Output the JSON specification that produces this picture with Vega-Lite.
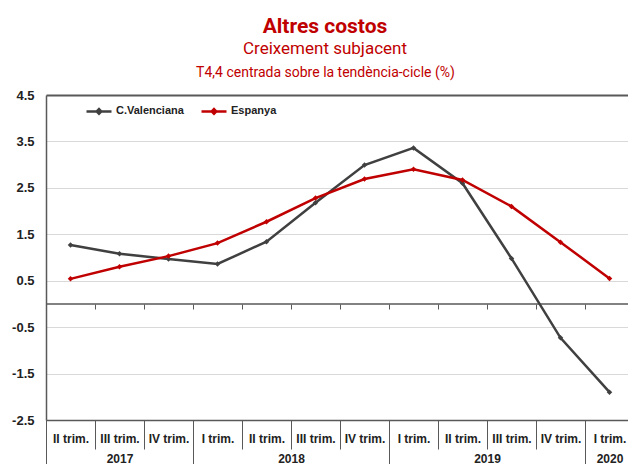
{
  "$schema": "https://vega.github.io/schema/vega-lite/v6.json",
  "width": 582,
  "height": 325,
  "autosize": {"type": "none"},
  "padding": {"left": 46, "top": 95, "right": 0, "bottom": 44},
  "background": "white",
  "title": {
    "text": "Altres costos",
    "subtitle": "Creixement subjacent",
    "anchor": "middle",
    "dx": -12,
    "offset": 8,
    "font": "Roboto",
    "fontSize": 21,
    "fontWeight": "bold",
    "color": "#C00000",
    "subtitleFont": "Roboto",
    "subtitleFontSize": 17,
    "subtitleColor": "#C00000",
    "subtitlePadding": 4
  },
  "config": {"view": {"stroke": null}},
  "data": {
    "values": [
      {"t": 1, "serie": "C.Valenciana", "v": 1.27},
      {"t": 2, "serie": "C.Valenciana", "v": 1.08},
      {"t": 3, "serie": "C.Valenciana", "v": 0.97},
      {"t": 4, "serie": "C.Valenciana", "v": 0.86},
      {"t": 5, "serie": "C.Valenciana", "v": 1.34},
      {"t": 6, "serie": "C.Valenciana", "v": 2.18},
      {"t": 7, "serie": "C.Valenciana", "v": 2.99},
      {"t": 8, "serie": "C.Valenciana", "v": 3.36},
      {"t": 9, "serie": "C.Valenciana", "v": 2.6},
      {"t": 10, "serie": "C.Valenciana", "v": 0.98},
      {"t": 11, "serie": "C.Valenciana", "v": -0.73},
      {"t": 12, "serie": "C.Valenciana", "v": -1.9},
      {"t": 1, "serie": "Espanya", "v": 0.54},
      {"t": 2, "serie": "Espanya", "v": 0.8},
      {"t": 3, "serie": "Espanya", "v": 1.03},
      {"t": 4, "serie": "Espanya", "v": 1.31},
      {"t": 5, "serie": "Espanya", "v": 1.77},
      {"t": 6, "serie": "Espanya", "v": 2.28},
      {"t": 7, "serie": "Espanya", "v": 2.69},
      {"t": 8, "serie": "Espanya", "v": 2.9},
      {"t": 9, "serie": "Espanya", "v": 2.67},
      {"t": 10, "serie": "Espanya", "v": 2.1},
      {"t": 11, "serie": "Espanya", "v": 1.33},
      {"t": 12, "serie": "Espanya", "v": 0.55}
    ]
  },
  "layer": [
    {
      "data": {"values": [{}]},
      "mark": {"type": "rule", "color": "#595959", "strokeWidth": 1.5},
      "encoding": {"y": {"datum": 0, "type": "quantitative"}}
    },
    {
      "transform": [{"filter": "datum.serie == 'C.Valenciana'"}],
      "mark": {"type": "line", "strokeWidth": 2.5},
      "encoding": {
        "x": {
          "field": "t", "type": "quantitative",
          "scale": {"domain": [0.5, 12.3776], "nice": false, "zero": false},
          "axis": {
            "orient": "bottom",
            "values": [1, 2, 3, 4, 5, 6, 7, 8, 9, 10, 11, 12],
            "labelExpr": "['II trim.','III trim.','IV trim.','I trim.','II trim.','III trim.','IV trim.','I trim.','II trim.','III trim.','IV trim.','I trim.'][datum.value-1]",
            "ticks": false, "tickSize": 0,
            "domain": true, "domainColor": "#595959", "domainWidth": 1.5,
            "grid": false,
            "labelFont": "Liberation Sans", "labelFontSize": 12, "labelFontWeight": "bold", "labelColor": "#222222",
            "labelBaseline": "middle", "labelPadding": 18,
            "labelOverlap": false, "labelFlush": false, "labelBound": false,
            "title": null
          }
        },
        "y": {
          "field": "v", "type": "quantitative",
          "scale": {"domain": [-2.5, 4.5], "nice": false, "zero": false},
          "axis": {
            "values": [-2.5, -1.5, -0.5, 0.5, 1.5, 2.5, 3.5, 4.5],
            "labelExpr": "replace(format(datum.value,'.1f'),'\u2212','-')",
            "grid": true,
            "gridColor": {"condition": {"test": "datum.value == 4.5 || datum.value == -2.5", "value": "#595959"}, "value": "#D9D9D9"},
            "gridWidth": {"condition": {"test": "datum.value == 4.5", "value": 2}, "value": 1},
            "ticks": false,
            "domain": true, "domainColor": "#595959", "domainWidth": 1.5,
            "labelFont": "Liberation Sans", "labelFontSize": 13, "labelFontWeight": "bold", "labelColor": "#222222",
            "labelPadding": 12,
            "title": "T4,4 centrada sobre la tendència-cicle (%)",
            "titleAngle": 0, "titleX": 279, "titleY": -19,
            "titleAlign": "center", "titleBaseline": "alphabetic",
            "titleFont": "Roboto", "titleFontSize": 14, "titleFontWeight": "normal", "titleColor": "#C00000"
          }
        },
        "color": {
          "field": "serie", "type": "nominal",
          "scale": {"domain": ["C.Valenciana", "Espanya"], "range": ["#404040", "#C00000"]},
          "legend": {
            "orient": "none", "legendX": 39, "legendY": 2,
            "direction": "horizontal", "title": null,
            "symbolType": "M-1,0L1,0M-0.18,0L0,-0.18L0.18,0L0,0.18Z",
            "symbolSize": 625, "symbolStrokeWidth": 2.5,
            "labelFont": "Liberation Sans", "labelFontSize": 11, "labelFontWeight": "bold", "labelColor": "#222222",
            "labelOffset": 3, "columnPadding": 12
          }
        }
      }
    },
    {
      "transform": [{"filter": "datum.serie == 'Espanya'"}],
      "mark": {"type": "line", "strokeWidth": 2.5},
      "encoding": {
        "x": {
          "field": "t", "type": "quantitative",
          "axis": {
            "orient": "bottom",
            "values": [2, 5.5, 9.5, 12],
            "labelExpr": "datum.value < 3.5 ? '2017' : datum.value < 7.5 ? '2018' : datum.value < 11.5 ? '2019' : '2020'",
            "ticks": false, "tickSize": 0, "domain": false, "grid": false,
            "labelFont": "Liberation Sans", "labelFontSize": 12, "labelFontWeight": "bold", "labelColor": "#222222",
            "labelBaseline": "middle", "labelPadding": 38,
            "labelOverlap": false, "labelFlush": false, "labelBound": false,
            "title": null
          }
        },
        "y": {"field": "v", "type": "quantitative"},
        "color": {"field": "serie", "type": "nominal"}
      }
    },
    {
      "transform": [{"filter": "datum.serie == 'C.Valenciana'"}],
      "mark": {"type": "point", "shape": "diamond", "filled": true, "size": 30, "opacity": 1},
      "encoding": {
        "x": {
          "field": "t", "type": "quantitative",
          "axis": {
            "orient": "bottom",
            "values": [0.5, 1.5, 2.5, 3.5, 4.5, 5.5, 6.5, 7.5, 8.5, 9.5, 10.5, 11.5],
            "ticks": true,
            "tickSize": {"condition": {"test": "datum.value == 0.5 || datum.value == 3.5 || datum.value == 7.5 || datum.value == 11.5", "value": 46}, "value": 29},
            "tickColor": "#595959", "tickWidth": 1,
            "labels": false, "domain": false, "grid": false, "title": null
          }
        },
        "y": {"field": "v", "type": "quantitative"},
        "color": {"field": "serie", "type": "nominal"}
      }
    },
    {
      "transform": [{"filter": "datum.serie == 'Espanya'"}],
      "mark": {"type": "point", "shape": "diamond", "filled": true, "size": 30, "opacity": 1},
      "encoding": {
        "x": {
          "field": "t", "type": "quantitative",
          "axis": {
            "orient": "bottom", "offset": -116,
            "values": [0.5, 1.5, 2.5, 3.5, 4.5, 5.5, 6.5, 7.5, 8.5, 9.5, 10.5, 11.5],
            "ticks": true, "tickSize": 5, "tickColor": "#595959", "tickWidth": 1,
            "labels": false, "domain": false, "grid": false, "title": null
          }
        },
        "y": {"field": "v", "type": "quantitative"},
        "color": {"field": "serie", "type": "nominal"}
      }
    }
  ],
  "resolve": {"axis": {"x": "independent"}}
}
